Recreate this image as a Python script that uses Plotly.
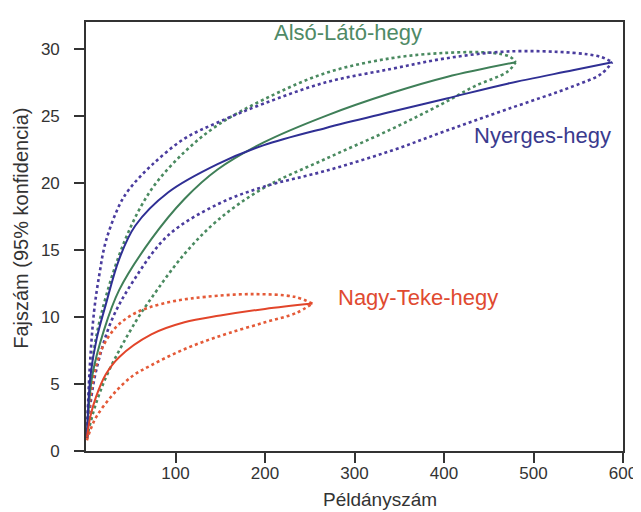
import plotly.graph_objects as go

# ---- Data ----
# Nyerges-hegy (blue)
ny_x_mean = [1, 5, 12, 22, 37, 55, 92, 147, 198, 268, 341, 403, 471, 544, 588]
ny_mean = [1, 5.6, 8.4, 10.9, 14.3, 16.8, 19.3, 21.4, 22.8, 24.1, 25.3, 26.3, 27.4, 28.4, 29]
ny_x_up = [1, 4, 9, 15, 22, 37, 48, 73, 110, 147, 198, 268, 341, 403, 471, 544, 575, 588]
ny_up = [1, 6, 10.4, 13.2, 15.6, 18.3, 19.5, 21.3, 23.3, 24.5, 25.9, 27.5, 28.5, 29.3, 29.8, 29.7, 29.4, 29]
ny_x_lo = [1, 4, 11, 29, 55, 92, 147, 198, 268, 341, 403, 471, 544, 575, 588]
ny_lo = [1, 3, 5.9, 9.8, 12.9, 16.1, 18.4, 19.7, 20.9, 22.4, 23.9, 25.5, 27.2, 28.1, 29]

# Alsó-Látó-hegy (green)
al_x_mean = [1, 7, 20, 37, 73, 110, 147, 198, 268, 341, 403, 480]
al_mean = [1, 5.6, 9.0, 12.0, 15.8, 18.8, 21.0, 23.0, 25.0, 26.7, 27.9, 29]
al_x_up = [1, 5.5, 17, 44, 73, 110, 147, 198, 268, 341, 403, 453, 474, 480]
al_up = [1, 5.9, 10.2, 15.8, 19.5, 22.3, 24.3, 26.2, 28.2, 29.3, 29.7, 29.7, 29.4, 29]
al_x_lo = [1, 10, 25, 55, 73, 110, 147, 198, 268, 341, 398, 434, 471, 480]
al_lo = [1, 3.3, 5.9, 9.6, 11.4, 14.7, 17.2, 19.6, 21.8, 24.0, 25.9, 27.2, 28.3, 29]

# Nagy-Teke-hegy (red)
nt_x_mean = [1, 5, 11, 22, 37, 73, 110, 150, 200, 253]
nt_mean = [1, 2.6, 4.0, 5.7, 7.0, 8.7, 9.6, 10.1, 10.6, 11]
nt_x_up = [1, 5, 10, 19, 33, 50, 70, 100, 134, 185, 233, 253]
nt_up = [1, 4.0, 6.0, 7.8, 9.2, 10.1, 10.7, 11.2, 11.5, 11.7, 11.5, 11]
nt_x_lo = [1, 5, 12, 30, 52, 73, 100, 129, 160, 200, 235, 253]
nt_lo = [0.8, 1.6, 2.6, 4.2, 5.6, 6.4, 7.3, 8.1, 8.8, 9.6, 10.3, 11]

x_ticks = [100, 200, 300, 400, 500, 600]
y_ticks = [0, 5, 10, 15, 20, 25, 30]

BLUE = "#2f2f94"
BLUE_DOT = "#4a3c9e"
GREEN = "#3f7f58"
GREEN_DOT = "#4a8a60"
RED = "#e2452a"
RED_DOT = "#e45a38"
FONT = "Liberation Sans, Arial"
TXT = "#333333"

fig = go.Figure()

def add(x, y, color, dotted):
    fig.add_trace(go.Scatter(
        x=x, y=y, mode="lines", showlegend=False, hoverinfo="skip",
        line=dict(color=color, width=2.6 if dotted else 2.0,
                  dash="dot" if dotted else "solid", shape="spline", smoothing=1.0),
    ))

add(al_x_up, al_up, GREEN_DOT, True)
add(al_x_lo, al_lo, GREEN_DOT, True)
add(ny_x_up, ny_up, BLUE_DOT, True)
add(ny_x_lo, ny_lo, BLUE_DOT, True)
add(nt_x_up, nt_up, RED_DOT, True)
add(nt_x_lo, nt_lo, RED_DOT, True)
add(al_x_mean, al_mean, GREEN, False)
add(ny_x_mean, ny_mean, BLUE, False)
add(nt_x_mean, nt_mean, RED, False)

labels = [
    ("Alsó-Látó-hegy", 293, 31.2, "#4f8a66"),
    ("Nyerges-hegy", 510, 23.5, "#3a3a8e"),
    ("Nagy-Teke-hegy", 371, 11.45, "#e04a30"),
]
for txt, lx, ly, c in labels:
    fig.add_annotation(x=lx, y=ly, text=txt, showarrow=False,
                       font=dict(family=FONT, size=22, color=c))

fig.add_annotation(x=0.548, y=-0.142, xref="paper", yref="paper",
                   text="Példányszám", showarrow=False,
                   font=dict(family=FONT, size=19, color=TXT))
fig.add_annotation(x=-0.121, y=0.518, xref="paper", yref="paper",
                   text="Fajszám (95% konfidencia)", showarrow=False, textangle=-90,
                   xanchor="center", yanchor="middle",
                   font=dict(family=FONT, size=20, color=TXT))

axis_common = dict(
    showgrid=False, zeroline=False, showline=True, linecolor="#333333", linewidth=1.6,
    mirror=True, ticks="outside", ticklen=10, tickwidth=1.6, tickcolor="#333333",
    tickfont=dict(family=FONT, size=17, color=TXT),
)

fig.update_layout(
    width=641, height=512,
    margin=dict(l=78, r=17, t=13, b=69),
    paper_bgcolor="white", plot_bgcolor="white",
    xaxis=dict(range=[0, 600], tickvals=x_ticks, ticklabelstandoff=-4, **axis_common),
    yaxis=dict(range=[0, 32], tickvals=y_ticks, ticklabelstandoff=11, **axis_common),
)

fig.write_html("out.html")
